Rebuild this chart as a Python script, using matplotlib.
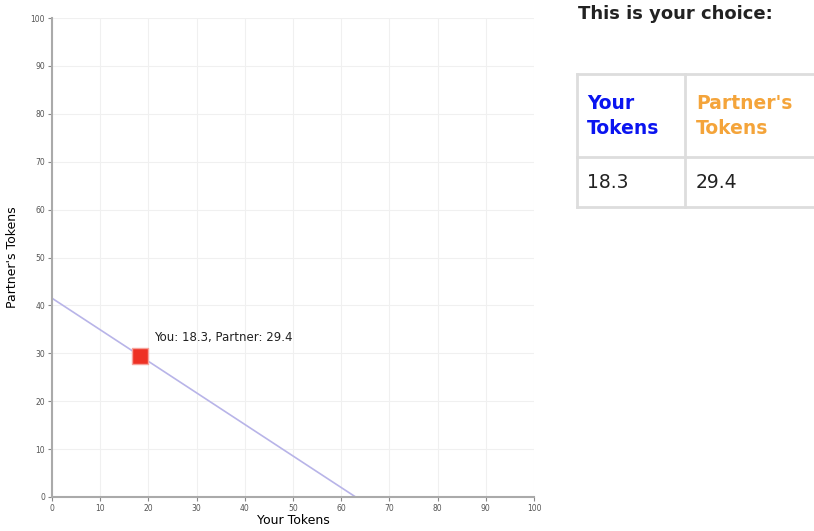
import matplotlib.pyplot as plt
from matplotlib.lines import Line2D

W, H = 814, 531
line_x = [0, 63]
line_y = [41.5, 0]
choice_you = 18.3
choice_partner = 29.4
ticks = list(range(0, 101, 10))

fig = plt.figure(figsize=(W / 100, H / 100), dpi=100)
ax = fig.add_axes([52 / W, 1 - 497 / H, (534 - 52) / W, (497 - 18) / H])
ax.plot(line_x, line_y, color='#b8b4e8', lw=1.2)
ax.scatter([choice_you], [choice_partner], marker='s', s=130, color='#ee3124',
           edgecolors='#f6a29a', linewidths=1, zorder=3)
ax.annotate(f'You: {choice_you}, Partner: {choice_partner}', (choice_you, choice_partner),
            xytext=(10, 11), textcoords='offset points', fontsize=8.5, color='#222222')
ax.set_xlim(0, 100)
ax.set_ylim(0, 100)
ax.set_xticks(ticks)
ax.set_yticks(ticks)
ax.tick_params(labelsize=5.5, colors='#888888', length=3, labelcolor='#555555', pad=2)
ax.grid(True, color='#f0f0f0', lw=0.8)
for s in ['top', 'right']:
    ax.spines[s].set_visible(False)
for s in ['left', 'bottom']:
    ax.spines[s].set_color('#aaaaaa')
    ax.spines[s].set_linewidth(1.5)
ax.set_xlabel('Your Tokens', fontsize=9, labelpad=1)
ax.set_ylabel("Partner's Tokens", fontsize=9, labelpad=8)

# table on the right
fig.text(578 / W, 1 - 14 / H, 'This is your choice:', fontsize=13, fontweight='bold',
         color='#222222', va='center')
xs = [577, 685, 814]
ys = [74, 157, 207]
c = '#dddddd'
for y in ys:
    fig.add_artist(Line2D([xs[0] / W, xs[2] / W], [1 - y / H] * 2, color=c, lw=2))
for x in xs[:2]:
    fig.add_artist(Line2D([x / W] * 2, [1 - ys[0] / H, 1 - ys[2] / H], color=c, lw=2))
fig.text(587 / W, 1 - 116 / H, 'Your\nTokens', fontsize=13.5, fontweight='bold',
         color='#0a14f0', va='center', linespacing=1.4)
fig.text(696 / W, 1 - 116 / H, "Partner's\nTokens", fontsize=13.5, fontweight='bold',
         color='#f4a43a', va='center', linespacing=1.4)
fig.text(587 / W, 1 - 183 / H, f'{choice_you}', fontsize=13.5, color='#222222', va='center')
fig.text(696 / W, 1 - 183 / H, f'{choice_partner}', fontsize=13.5, color='#222222', va='center')

fig.savefig('out.png', dpi=100)
